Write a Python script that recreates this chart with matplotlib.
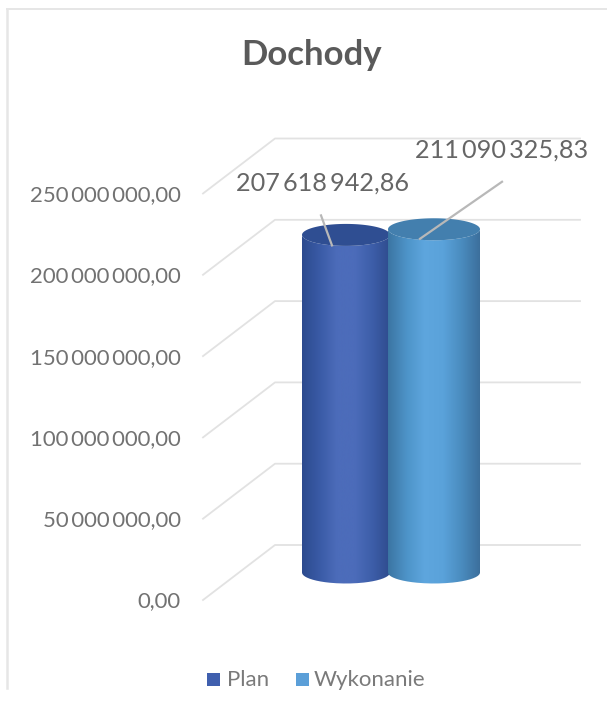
import numpy as np
import matplotlib
matplotlib.use("Agg")
import matplotlib.pyplot as plt
from matplotlib.patches import PathPatch, Rectangle
from matplotlib.path import Path
from matplotlib.colors import LinearSegmentedColormap

title = "Dochody"
categories = ["Plan", "Wykonanie"]
values = [207618942.86, 211090325.83]
value_labels = ["207\u2009618\u2009942,86", "211\u2009090\u2009325,83"]
ticks = [0, 50e6, 100e6, 150e6, 200e6, 250e6]
tick_labels = ["0,00", "50\u2009000\u2009000,00", "100\u2009000\u2009000,00", "150\u2009000\u2009000,00",
               "200\u2009000\u2009000,00", "250\u2009000\u2009000,00"]

W, H = 607, 715
PX_PER_UNIT = 81.3 / 50e6      # pixels per value unit
Y0 = 600                       # pixel row of value 0 on the front edge
DEPTH_X, DEPTH_Y = 72, 55      # pixel offset of the back wall
u = 1 / PX_PER_UNIT            # value units per pixel

plt.rcParams["font.family"] = ["Lato", "DejaVu Sans"]
fig = plt.figure(figsize=(W / 100, H / 100), dpi=100)
ax = fig.add_axes([0, 0, 1, 1])
ax.set_xlim(0, W)
ax.set_ylim((Y0 - H) * u, Y0 * u)
ax.axis("off")

# frame
frame = "#e6e6e6"
ax.plot([7, 7], [(Y0 - 688) * u, (Y0 - 9) * u], color=frame, lw=1.8)
ax.plot([7, 607], [(Y0 - 9) * u] * 2, color=frame, lw=1.4)

# gridlines on floor side and back wall
grid = "#e2e2e2"
for t, lab in zip(ticks, tick_labels):
    back = t + DEPTH_Y * u
    ax.plot([203, 203 + DEPTH_X, 580], [t, back, back], color=grid, lw=1.3, zorder=1)
    ax.text(181, t - 1.5 * u, lab, ha="right", va="center", fontsize=15.9, color="#727272")

# cylinders
def cylinder(xl, xr, val, stops, top_color, z):
    cx = (xl + xr) / 2
    a = (xr - xl) / 2
    b = 11 * u
    base = DEPTH_Y / 2 * u
    top = base + val
    th = np.linspace(np.pi, 2 * np.pi, 80)
    xs = cx + a * np.cos(th)
    bottom = base + b * np.sin(th)
    upper = top + b * np.sin(th)
    px = np.r_[xs, xs[::-1], xs[0]]
    py = np.r_[bottom, upper[::-1], bottom[0]]
    cmap = LinearSegmentedColormap.from_list("c", stops)
    im = ax.imshow(np.linspace(0, 1, 256)[None, :], cmap=cmap, aspect="auto",
                   extent=[xl, xr, base - 2 * b, top + 2 * b], zorder=z)
    patch = PathPatch(Path(np.c_[px, py]), fc="none", ec="none", transform=ax.transData)
    ax.add_patch(patch)
    im.set_clip_path(patch)
    ring = np.linspace(0, 2 * np.pi, 120)
    ax.fill(cx + a * np.cos(ring), top + b * np.sin(ring), color=top_color, lw=0, zorder=z + 0.5)

cylinder(302, 390, values[0],
         ["#2c4a8e", "#3a5ba6", "#4c6cba", "#4c6cba", "#3d5ea9", "#2f4c8e"], "#2f4e92", 3)
cylinder(388, 480, values[1],
         ["#3b75a3", "#4d93c8", "#5ea6de", "#5aa2da", "#4a8cbf", "#3c6f9c"], "#437fae", 4)

# data label leader lines and labels
leader = "#b8b8b8"
ax.plot([321, 332], [values[0] + 47 * u, values[0] + 17 * u], color=leader, lw=1.6, zorder=6)
ax.plot([502, 420], [values[1] + 75 * u, values[1] + 18 * u], color=leader, lw=1.6, zorder=6)
ax.text(322, values[0] + 79 * u, value_labels[0], ha="center", va="center",
        fontsize=18.2, color="#666666", zorder=7)
ax.text(501.5, values[1] + 107 * u, value_labels[1], ha="center", va="center",
        fontsize=18.2, color="#666666", zorder=7)

# title
ax.text(312, (Y0 - 55) * u, title, ha="center", va="center", fontsize=25,
        fontweight="bold", color="#5a5a5a")

# legend
colors = ["#3f5fae", "#5b9fd8"]
for x, tx, c, name in zip([207, 296], [227, 314], colors, categories):
    ax.add_patch(Rectangle((x, (Y0 - 686) * u), 13, 13 * u, fc=c, ec="none"))
    ax.text(tx, (Y0 - 680) * u, name, ha="left", va="center", fontsize=16, color="#7a7a7a")

fig.savefig("out.png", dpi=100)
